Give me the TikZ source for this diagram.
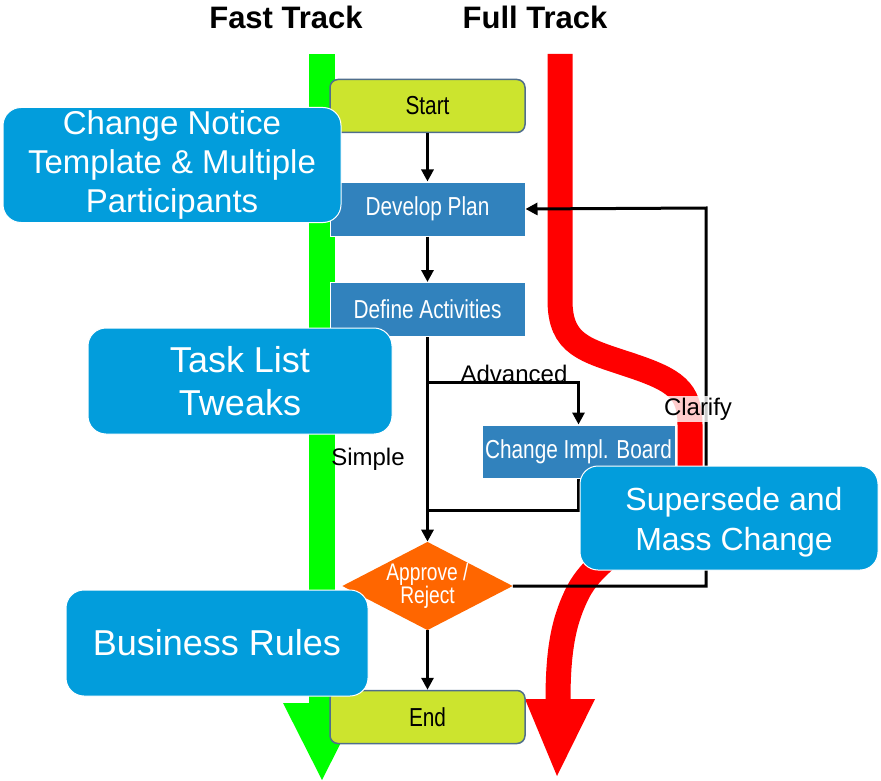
\documentclass[tikz,border=0pt]{standalone}
\usepackage{fontspec}
\setmainfont{Liberation Sans}
\newfontfamily\narrowsf{Liberation Sans}[FakeStretch=0.8]
\usetikzlibrary{shapes.geometric,arrows.meta}
\definecolor{trackgreen}{RGB}{0,255,0}
\definecolor{trackred}{RGB}{255,0,0}
\definecolor{steelbox}{RGB}{49,130,189}
\definecolor{limebox}{RGB}{204,228,46}
\definecolor{limeedge}{RGB}{80,110,140}
\definecolor{calloutblue}{RGB}{2,157,220}
\definecolor{orangedia}{RGB}{255,102,0}
\tikzset{
  stepbox/.style={rectangle, fill=steelbox, draw=white, line width=1pt,
    minimum width=195pt, minimum height=54pt, inner sep=0pt, text=white,
    font=\narrowsf\fontsize{26}{30}\selectfont},
  termbox/.style={rectangle, rounded corners=8pt, fill=limebox, draw=limeedge,
    line width=1.5pt, minimum width=195pt, minimum height=53pt, inner sep=0pt,
    text=black, font=\narrowsf\fontsize{26}{30}\selectfont},
  decision/.style={diamond, fill=orangedia, aspect=1.93, minimum width=170pt,
    minimum height=88pt, inner sep=0pt, text=white, align=center,
    font=\narrowsf\fontsize{24}{21}\selectfont},
  callout/.style={rectangle, rounded corners=18pt, fill=calloutblue, draw=white,
    line width=1pt, text=white, align=center, inner sep=0pt},
  callouttext/.style={text=white, align=center, inner sep=0pt},
  flow/.style={line width=3pt, draw=black},
  flowarrow/.style={flow, -{Triangle[width=12pt,length=12pt]}},
  flowlabel/.style={anchor=base, font=\fontsize{24}{28}\selectfont, inner sep=0pt},
  heading/.style={anchor=base, font=\bfseries\fontsize{31}{35}\selectfont, inner sep=0pt}
}
\begin{document}
\begin{tikzpicture}[x=1pt,y=-1pt]
\useasboundingbox (0,0) rectangle (881,781);
% tracks
\fill[trackgreen] (309,54) rectangle (335,703);
\fill[trackgreen] (283,703) -- (361,703) -- (322,780) -- cycle;
\draw[trackred, line width=25pt] (560,54) -- (560,300)
  .. controls (560,345) and (585,350) .. (630,365)
  .. controls (675,380) and (690,390) .. (690,425)
  -- (690,480)
  .. controls (690,520) and (605,540) .. (578,592)
  .. controls (565,618) and (558,645) .. (558,700);
\fill[trackred] (525,699) -- (595,699) -- (557,776) -- cycle;
% headings
\node[heading] (fast) at (286,29) {Fast Track};
\node[heading] (full) at (535,29) {Full Track};
% flow nodes
\node[termbox] (start) at (427.5,106) {Start};
\node[stepbox] (dev) at (427.5,209) {Develop Plan};
\node[stepbox] (def) at (427.5,309.5) {Define Activities};
\node[stepbox, minimum width=193pt, minimum height=53pt] (cib) at (578.5,451.5) {Change Impl. Board};
\node[decision] (app) at (427.5,586) {Approve /\\Reject};
\node[termbox] (end) at (427.5,717) {End};
% connectors
\coordinate (br) at (427.5,382);
\coordinate (jn) at (427.5,510);
\coordinate (c1) at (706,586);
\coordinate (c2) at (706,208);
\draw[flowarrow] (start) -- (dev);
\draw[flowarrow] (dev) -- (def);
\draw[flowarrow] (def) -- (app);
\draw[flowarrow] (br) -| (cib);
\draw[flow] (cib.south) |- (jn);
\draw[flowarrow] (app) -- (end);
\draw[flowarrow] (app.east) -- (c1) -- (c2) -- (dev.east);
% labels
\node[flowlabel] (adv) at (514,382) {Advanced};
\node[flowlabel] (simple) at (368,465) {Simple};
\node[flowlabel, fill=white, fill opacity=0.8, text opacity=1, inner sep=2pt] (clar) at (698,415) {Clarify};
% callouts
\node[callout, minimum width=338pt, minimum height=115pt,
  font=\fontsize{33}{39}\selectfont] (notice) at (172,165)
  {Change Notice\\Template \& Multiple\\Participants};
\node[callout, minimum width=304pt, minimum height=106pt,
  font=\fontsize{36}{43}\selectfont] (tweaks) at (240,381)
  {Task List\\Tweaks};
\node[callout, minimum width=298pt, minimum height=104pt] (mass) at (729,518) {};
\node[callouttext, font=\fontsize{32}{40}\selectfont] (masstext) at ([shift={(5,4)}]mass.center)
  {Supersede and\\Mass Change};
\node[callout, minimum width=302pt, minimum height=106pt,
  font=\fontsize{36}{43}\selectfont] (rules) at (217,643)
  {Business Rules};
\end{tikzpicture}
\end{document}
